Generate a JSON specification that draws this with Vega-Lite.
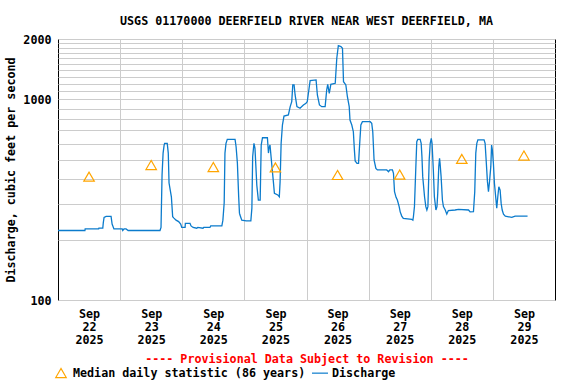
{
  "$schema": "https://vega.github.io/schema/vega-lite/v6.json",
  "width": 497,
  "height": 261,
  "autosize": {"type": "none"},
  "padding": {"left": 58, "top": 39, "right": 21, "bottom": 84},
  "config": {
    "font": "DejaVu Sans Mono",
    "view": {"stroke": "#000000", "strokeWidth": 1},
    "axis": {"labelFont": "DejaVu Sans Mono", "labelFontSize": 11.7, "labelFontWeight": "bold", "labelColor": "#000000", "titleFont": "DejaVu Sans Mono", "titleFontSize": 11.7, "titleFontWeight": "bold", "titleColor": "#000000"}
  },
  "title": {"text": "USGS 01170000 DEERFIELD RIVER NEAR WEST DEERFIELD, MA", "font": "DejaVu Sans Mono", "fontSize": 11.7, "fontWeight": "bold", "color": "#000000", "anchor": "middle", "offset": 6},
  "datasets": {
    "flow": [
      {"t": "2025-09-22T00:00", "cfs": 222},
      {"t": "2025-09-22T10:24", "cfs": 222},
      {"t": "2025-09-22T10:30", "cfs": 226},
      {"t": "2025-09-22T15:42", "cfs": 226},
      {"t": "2025-09-22T15:48", "cfs": 228},
      {"t": "2025-09-22T17:18", "cfs": 228},
      {"t": "2025-09-22T17:30", "cfs": 243},
      {"t": "2025-09-22T17:48", "cfs": 258},
      {"t": "2025-09-22T18:36", "cfs": 261},
      {"t": "2025-09-22T20:30", "cfs": 261},
      {"t": "2025-09-22T20:54", "cfs": 239},
      {"t": "2025-09-22T21:36", "cfs": 226},
      {"t": "2025-09-23T00:48", "cfs": 226},
      {"t": "2025-09-23T01:00", "cfs": 222},
      {"t": "2025-09-23T01:30", "cfs": 226},
      {"t": "2025-09-23T02:18", "cfs": 226},
      {"t": "2025-09-23T03:06", "cfs": 222},
      {"t": "2025-09-23T15:24", "cfs": 222},
      {"t": "2025-09-23T15:48", "cfs": 230},
      {"t": "2025-09-23T16:12", "cfs": 420},
      {"t": "2025-09-23T16:36", "cfs": 540},
      {"t": "2025-09-23T17:00", "cfs": 592},
      {"t": "2025-09-23T17:12", "cfs": 604},
      {"t": "2025-09-23T18:12", "cfs": 604},
      {"t": "2025-09-23T18:36", "cfs": 540},
      {"t": "2025-09-23T18:54", "cfs": 383},
      {"t": "2025-09-23T19:48", "cfs": 327},
      {"t": "2025-09-23T20:18", "cfs": 260},
      {"t": "2025-09-23T20:48", "cfs": 256},
      {"t": "2025-09-23T21:36", "cfs": 250},
      {"t": "2025-09-23T22:36", "cfs": 246},
      {"t": "2025-09-23T23:24", "cfs": 239},
      {"t": "2025-09-23T23:48", "cfs": 230},
      {"t": "2025-09-24T01:06", "cfs": 230},
      {"t": "2025-09-24T01:12", "cfs": 241},
      {"t": "2025-09-24T03:00", "cfs": 241},
      {"t": "2025-09-24T03:24", "cfs": 234},
      {"t": "2025-09-24T04:12", "cfs": 230},
      {"t": "2025-09-24T05:36", "cfs": 228},
      {"t": "2025-09-24T06:00", "cfs": 230},
      {"t": "2025-09-24T08:00", "cfs": 228},
      {"t": "2025-09-24T08:18", "cfs": 230},
      {"t": "2025-09-24T10:42", "cfs": 230},
      {"t": "2025-09-24T11:00", "cfs": 234},
      {"t": "2025-09-24T15:18", "cfs": 234},
      {"t": "2025-09-24T15:42", "cfs": 250},
      {"t": "2025-09-24T16:12", "cfs": 305},
      {"t": "2025-09-24T16:30", "cfs": 540},
      {"t": "2025-09-24T16:54", "cfs": 604},
      {"t": "2025-09-24T17:24", "cfs": 632},
      {"t": "2025-09-24T20:24", "cfs": 632},
      {"t": "2025-09-24T20:48", "cfs": 581},
      {"t": "2025-09-24T21:18", "cfs": 482},
      {"t": "2025-09-24T21:48", "cfs": 327},
      {"t": "2025-09-24T22:06", "cfs": 271},
      {"t": "2025-09-24T22:18", "cfs": 265},
      {"t": "2025-09-24T23:00", "cfs": 250},
      {"t": "2025-09-25T00:42", "cfs": 248},
      {"t": "2025-09-25T02:30", "cfs": 248},
      {"t": "2025-09-25T02:54", "cfs": 287},
      {"t": "2025-09-25T03:12", "cfs": 518},
      {"t": "2025-09-25T03:42", "cfs": 604},
      {"t": "2025-09-25T04:06", "cfs": 570},
      {"t": "2025-09-25T04:48", "cfs": 374},
      {"t": "2025-09-25T05:24", "cfs": 315},
      {"t": "2025-09-25T06:06", "cfs": 315},
      {"t": "2025-09-25T06:30", "cfs": 592},
      {"t": "2025-09-25T07:00", "cfs": 644},
      {"t": "2025-09-25T08:54", "cfs": 644},
      {"t": "2025-09-25T09:18", "cfs": 540},
      {"t": "2025-09-25T09:30", "cfs": 570},
      {"t": "2025-09-25T09:54", "cfs": 592},
      {"t": "2025-09-25T10:36", "cfs": 471},
      {"t": "2025-09-25T11:12", "cfs": 389},
      {"t": "2025-09-25T11:36", "cfs": 340},
      {"t": "2025-09-25T12:54", "cfs": 334},
      {"t": "2025-09-25T13:30", "cfs": 327},
      {"t": "2025-09-25T13:48", "cfs": 389},
      {"t": "2025-09-25T14:12", "cfs": 604},
      {"t": "2025-09-25T14:42", "cfs": 745},
      {"t": "2025-09-25T15:18", "cfs": 826},
      {"t": "2025-09-25T17:00", "cfs": 836},
      {"t": "2025-09-25T17:42", "cfs": 920},
      {"t": "2025-09-25T18:18", "cfs": 975},
      {"t": "2025-09-25T18:42", "cfs": 1180},
      {"t": "2025-09-25T19:12", "cfs": 1180},
      {"t": "2025-09-25T19:36", "cfs": 1052},
      {"t": "2025-09-25T20:18", "cfs": 920},
      {"t": "2025-09-25T21:30", "cfs": 903},
      {"t": "2025-09-25T22:48", "cfs": 938},
      {"t": "2025-09-25T23:48", "cfs": 957},
      {"t": "2025-09-26T00:18", "cfs": 975},
      {"t": "2025-09-26T01:00", "cfs": 1136},
      {"t": "2025-09-26T01:24", "cfs": 1240},
      {"t": "2025-09-26T03:42", "cfs": 1250},
      {"t": "2025-09-26T04:12", "cfs": 1052},
      {"t": "2025-09-26T05:00", "cfs": 938},
      {"t": "2025-09-26T05:54", "cfs": 920},
      {"t": "2025-09-26T07:12", "cfs": 920},
      {"t": "2025-09-26T07:48", "cfs": 1114},
      {"t": "2025-09-26T08:12", "cfs": 1189},
      {"t": "2025-09-26T08:48", "cfs": 1072},
      {"t": "2025-09-26T09:24", "cfs": 1189},
      {"t": "2025-09-26T11:06", "cfs": 1203},
      {"t": "2025-09-26T11:42", "cfs": 1603},
      {"t": "2025-09-26T12:18", "cfs": 1853},
      {"t": "2025-09-26T13:18", "cfs": 1832},
      {"t": "2025-09-26T13:54", "cfs": 1798},
      {"t": "2025-09-26T14:18", "cfs": 1225},
      {"t": "2025-09-26T15:12", "cfs": 1180},
      {"t": "2025-09-26T15:48", "cfs": 1031},
      {"t": "2025-09-26T16:30", "cfs": 920},
      {"t": "2025-09-26T16:48", "cfs": 789},
      {"t": "2025-09-26T17:30", "cfs": 745},
      {"t": "2025-09-26T18:06", "cfs": 690},
      {"t": "2025-09-26T18:30", "cfs": 560},
      {"t": "2025-09-26T18:48", "cfs": 493},
      {"t": "2025-09-26T19:30", "cfs": 480},
      {"t": "2025-09-26T20:06", "cfs": 480},
      {"t": "2025-09-26T20:24", "cfs": 560},
      {"t": "2025-09-26T21:00", "cfs": 745},
      {"t": "2025-09-26T21:36", "cfs": 774},
      {"t": "2025-09-27T00:36", "cfs": 774},
      {"t": "2025-09-27T01:12", "cfs": 760},
      {"t": "2025-09-27T01:36", "cfs": 690},
      {"t": "2025-09-27T02:06", "cfs": 499},
      {"t": "2025-09-27T02:48", "cfs": 453},
      {"t": "2025-09-27T03:24", "cfs": 445},
      {"t": "2025-09-27T07:00", "cfs": 445},
      {"t": "2025-09-27T07:42", "cfs": 436},
      {"t": "2025-09-27T08:12", "cfs": 445},
      {"t": "2025-09-27T09:12", "cfs": 445},
      {"t": "2025-09-27T09:36", "cfs": 428},
      {"t": "2025-09-27T10:00", "cfs": 347},
      {"t": "2025-09-27T10:36", "cfs": 325},
      {"t": "2025-09-27T11:06", "cfs": 315},
      {"t": "2025-09-27T11:48", "cfs": 292},
      {"t": "2025-09-27T12:12", "cfs": 275},
      {"t": "2025-09-27T12:48", "cfs": 262},
      {"t": "2025-09-27T13:24", "cfs": 255},
      {"t": "2025-09-27T16:42", "cfs": 252},
      {"t": "2025-09-27T17:06", "cfs": 250},
      {"t": "2025-09-27T17:18", "cfs": 260},
      {"t": "2025-09-27T17:42", "cfs": 292},
      {"t": "2025-09-27T18:12", "cfs": 445},
      {"t": "2025-09-27T18:36", "cfs": 615},
      {"t": "2025-09-27T19:00", "cfs": 632},
      {"t": "2025-09-27T19:54", "cfs": 632},
      {"t": "2025-09-27T20:18", "cfs": 604},
      {"t": "2025-09-27T20:36", "cfs": 518},
      {"t": "2025-09-27T20:54", "cfs": 412},
      {"t": "2025-09-27T21:36", "cfs": 327},
      {"t": "2025-09-27T22:06", "cfs": 292},
      {"t": "2025-09-27T22:30", "cfs": 281},
      {"t": "2025-09-27T22:54", "cfs": 292},
      {"t": "2025-09-27T23:24", "cfs": 499},
      {"t": "2025-09-27T23:48", "cfs": 604},
      {"t": "2025-09-28T00:12", "cfs": 640},
      {"t": "2025-09-28T00:30", "cfs": 604},
      {"t": "2025-09-28T01:00", "cfs": 445},
      {"t": "2025-09-28T01:24", "cfs": 327},
      {"t": "2025-09-28T02:00", "cfs": 281},
      {"t": "2025-09-28T02:24", "cfs": 292},
      {"t": "2025-09-28T02:42", "cfs": 340},
      {"t": "2025-09-28T03:06", "cfs": 462},
      {"t": "2025-09-28T03:24", "cfs": 508},
      {"t": "2025-09-28T03:36", "cfs": 480},
      {"t": "2025-09-28T04:00", "cfs": 412},
      {"t": "2025-09-28T04:30", "cfs": 315},
      {"t": "2025-09-28T04:54", "cfs": 292},
      {"t": "2025-09-28T05:36", "cfs": 281},
      {"t": "2025-09-28T06:12", "cfs": 268},
      {"t": "2025-09-28T06:48", "cfs": 279},
      {"t": "2025-09-28T09:24", "cfs": 281},
      {"t": "2025-09-28T10:42", "cfs": 283},
      {"t": "2025-09-28T14:36", "cfs": 281},
      {"t": "2025-09-28T15:12", "cfs": 275},
      {"t": "2025-09-28T16:30", "cfs": 276},
      {"t": "2025-09-28T17:00", "cfs": 347},
      {"t": "2025-09-28T17:24", "cfs": 540},
      {"t": "2025-09-28T17:48", "cfs": 604},
      {"t": "2025-09-28T18:12", "cfs": 628},
      {"t": "2025-09-28T20:36", "cfs": 628},
      {"t": "2025-09-28T21:00", "cfs": 604},
      {"t": "2025-09-28T21:24", "cfs": 499},
      {"t": "2025-09-28T21:54", "cfs": 389},
      {"t": "2025-09-28T22:18", "cfs": 347},
      {"t": "2025-09-28T22:42", "cfs": 389},
      {"t": "2025-09-28T23:12", "cfs": 462},
      {"t": "2025-09-28T23:30", "cfs": 592},
      {"t": "2025-09-28T23:48", "cfs": 560},
      {"t": "2025-09-29T00:12", "cfs": 480},
      {"t": "2025-09-29T00:36", "cfs": 382},
      {"t": "2025-09-29T01:12", "cfs": 315},
      {"t": "2025-09-29T01:30", "cfs": 287},
      {"t": "2025-09-29T01:54", "cfs": 327},
      {"t": "2025-09-29T02:18", "cfs": 367},
      {"t": "2025-09-29T02:48", "cfs": 353},
      {"t": "2025-09-29T03:12", "cfs": 303},
      {"t": "2025-09-29T03:36", "cfs": 281},
      {"t": "2025-09-29T04:06", "cfs": 268},
      {"t": "2025-09-29T04:48", "cfs": 262},
      {"t": "2025-09-29T07:18", "cfs": 258},
      {"t": "2025-09-29T08:36", "cfs": 262},
      {"t": "2025-09-29T13:24", "cfs": 262}
    ],
    "median": [
      {"t": "2025-09-22T12:00", "cfs": 412},
      {"t": "2025-09-23T12:00", "cfs": 471},
      {"t": "2025-09-24T12:00", "cfs": 460},
      {"t": "2025-09-25T12:00", "cfs": 458},
      {"t": "2025-09-26T12:00", "cfs": 420},
      {"t": "2025-09-27T12:00", "cfs": 422},
      {"t": "2025-09-28T12:00", "cfs": 505},
      {"t": "2025-09-29T12:00", "cfs": 525}
    ]
  },
  "encoding": {
    "x": {
      "field": "t", "type": "temporal",
      "scale": {"domain": [{"year": 2025, "month": 9, "date": 22, "hours": 0}, {"year": 2025, "month": 9, "date": 30, "hours": 0}], "nice": false},
      "axis": {
        "values": [
          {"year": 2025, "month": 9, "date": 22, "hours": 12},
          {"year": 2025, "month": 9, "date": 23, "hours": 0},
          {"year": 2025, "month": 9, "date": 23, "hours": 12},
          {"year": 2025, "month": 9, "date": 24, "hours": 0},
          {"year": 2025, "month": 9, "date": 24, "hours": 12},
          {"year": 2025, "month": 9, "date": 25, "hours": 0},
          {"year": 2025, "month": 9, "date": 25, "hours": 12},
          {"year": 2025, "month": 9, "date": 26, "hours": 0},
          {"year": 2025, "month": 9, "date": 26, "hours": 12},
          {"year": 2025, "month": 9, "date": 27, "hours": 0},
          {"year": 2025, "month": 9, "date": 27, "hours": 12},
          {"year": 2025, "month": 9, "date": 28, "hours": 0},
          {"year": 2025, "month": 9, "date": 28, "hours": 12},
          {"year": 2025, "month": 9, "date": 29, "hours": 0},
          {"year": 2025, "month": 9, "date": 29, "hours": 12}
        ],
        "labelExpr": "hours(datum.value) == 12 ? [timeFormat(datum.value, '%b'), timeFormat(datum.value, '%d'), timeFormat(datum.value, '%Y')] : ''",
        "labelLineHeight": 13,
        "labelPadding": 8,
        "labelOverlap": false,
        "labelFlush": false,
        "ticks": false,
        "domain": false,
        "grid": true,
        "gridColor": {"condition": {"test": "hours(datum.value) == 12", "value": "transparent"}, "value": "#cccccc"},
        "gridWidth": 1,
        "title": "---- Provisional Data Subject to Revision ----",
        "titleColor": "#ff0000",
        "titlePadding": 8
      }
    },
    "y": {
      "field": "cfs", "type": "quantitative",
      "scale": {"type": "log", "domain": [100, 2000], "nice": false},
      "axis": {
        "values": [100, 200, 300, 400, 500, 600, 700, 800, 900, 1000, 1100, 1200, 1300, 1400, 1500, 1600, 1700, 1800, 1900, 2000],
        "labelExpr": "(datum.value == 100 || datum.value == 1000 || datum.value == 2000) ? format(datum.value, 'd') : ''",
        "labelPadding": 7,
        "labelOverlap": false,
        "labelFlush": false,
        "ticks": false,
        "domain": false,
        "grid": true,
        "gridColor": "#cccccc",
        "title": "Discharge, cubic feet per second",
        "titlePadding": 6
      }
    }
  },
  "layer": [
    {
      "data": {"name": "flow"},
      "mark": {"type": "line", "strokeWidth": 1.3},
      "encoding": {
        "color": {
          "datum": "Discharge", "type": "nominal",
          "scale": {"domain": ["Median daily statistic (86 years)", "Discharge"], "range": ["#ffa500", "#0b7bcc"]},
          "legend": {
            "orient": "none", "legendX": -3, "legendY": 328, "direction": "horizontal",
            "title": null, "padding": 0,
            "labelFont": "DejaVu Sans Mono", "labelFontSize": 11.7, "labelFontWeight": "bold", "labelColor": "#000000",
            "labelLimit": 0, "labelOffset": 6, "columnPadding": 3,
            "symbolStrokeWidth": 1.2,
            "encode": {"symbols": {"update": {
              "shape": {"signal": "datum.label === 'Discharge' ? 'stroke' : 'triangle-up'"},
              "size": {"signal": "datum.label === 'Discharge' ? 256 : 110"},
              "fill": {"value": "transparent"},
              "strokeWidth": {"value": 1.2}
            }}}
          }
        }
      }
    },
    {
      "data": {"name": "median"},
      "mark": {"type": "point", "shape": "triangle-up", "filled": false, "size": 110, "strokeWidth": 1.2, "opacity": 1},
      "encoding": {
        "color": {
          "datum": "Median daily statistic (86 years)", "type": "nominal",
          "scale": {"domain": ["Median daily statistic (86 years)", "Discharge"], "range": ["#ffa500", "#0b7bcc"]}
        }
      }
    }
  ]
}
